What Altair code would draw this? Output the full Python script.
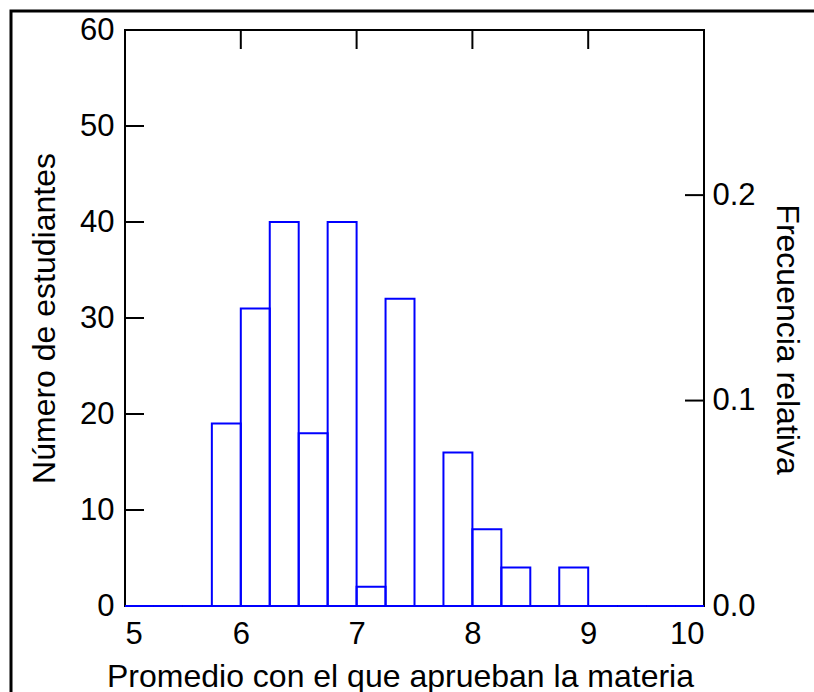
import altair as alt
import pandas as pd

# Histogram bins (width 0.25) and student counts
bin_start = [5.0, 5.25, 5.5, 5.75, 6.0, 6.25, 6.5, 6.75, 7.0, 7.25,
             7.5, 7.75, 8.0, 8.25, 8.5, 8.75, 9.0, 9.25, 9.5, 9.75]
bin_end = [5.25, 5.5, 5.75, 6.0, 6.25, 6.5, 6.75, 7.0, 7.25, 7.5,
           7.75, 8.0, 8.25, 8.5, 8.75, 9.0, 9.25, 9.5, 9.75, 10.0]
counts = [0, 0, 0, 19, 31, 40, 18, 40, 2, 32,
          0, 16, 8, 4, 0, 4, 0, 0, 0, 0]

x_ticks = [5, 6, 7, 8, 9, 10]
x_inner_ticks = [6, 7, 8, 9]
y_ticks = [0, 10, 20, 30, 40, 50, 60]
y_inner_ticks = [10, 20, 30, 40, 50]
rel_ticks = [0.0, 0.1, 0.2]
rel_inner_ticks = [0.1, 0.2]

total = sum(counts)
W, H = 579, 576
TICK = 19
FONT = "Liberation Sans"

bars_df = pd.DataFrame({"start": bin_start, "end": bin_end, "count": counts})

xscale = alt.Scale(domain=[5, 10], nice=False, zero=False)
yscale = alt.Scale(domain=[0, 60], nice=False)

x_axis = alt.Axis(
    values=x_ticks, ticks=False, domain=False, grid=False,
    labelFontSize=31, labelPadding=13, labelFont=FONT, labelColor="black",
    title="Promedio con el que aprueban la materia",
    titleFontSize=32, titleFont=FONT, titleFontWeight="normal", titleColor="black",
    titleX=275, titleY=80, titleBaseline="alphabetic", titleAlign="center")
y_axis = alt.Axis(
    values=y_ticks, ticks=False, domain=False, grid=False,
    labelFontSize=31, labelPadding=11, labelFont=FONT, labelColor="black",
    title="Número de estudiantes",
    titleFontSize=32, titleFont=FONT, titleFontWeight="normal", titleColor="black",
    titleAngle=270, titleX=-81, titleY=288, titleBaseline="middle", titleAlign="center")

bars = alt.Chart(bars_df).mark_rect(
    filled=False, stroke="#0000ff", strokeWidth=2
).encode(
    x=alt.X("start:Q", scale=xscale, axis=x_axis),
    x2="end:Q",
    y=alt.Y("count:Q", scale=yscale, axis=y_axis),
    y2=alt.datum(0),
)

top_ticks = alt.Chart(pd.DataFrame({"start": x_inner_ticks})).mark_rule(
    color="black", strokeWidth=2
).encode(
    x=alt.X("start:Q", scale=xscale, axis=x_axis),
    y=alt.value(0),
    y2=alt.value(TICK),
)

left_ticks = alt.Chart(pd.DataFrame({"count": y_inner_ticks})).mark_rule(
    color="black", strokeWidth=2
).encode(
    y=alt.Y("count:Q", scale=yscale, axis=y_axis),
    x=alt.value(0),
    x2=alt.value(TICK),
)

frame = alt.Chart(pd.DataFrame({"k": [0]})).mark_rect(
    filled=False, stroke="black", strokeWidth=3
).encode(
    x=alt.value(-114), x2=alt.value(1000),
    y=alt.value(-19), y2=alt.value(900),
)

right_axis = alt.Chart(pd.DataFrame({"rf": rel_inner_ticks})).mark_rule(
    color="black", strokeWidth=2
).encode(
    y=alt.Y("rf:Q", scale=alt.Scale(domain=[0, 60 / total], nice=False), axis=alt.Axis(
        orient="right", values=rel_ticks, format=".1f", ticks=False, domain=False, grid=False,
        labelFontSize=31, labelPadding=8, labelFont=FONT, labelColor="black",
        title="Frecuencia relativa",
        titleFontSize=32, titleFont=FONT, titleFontWeight="normal", titleColor="black",
        titleAngle=90, titleX=82, titleY=309, titleBaseline="middle", titleAlign="center")),
    x=alt.value(W - TICK),
    x2=alt.value(W),
)

inner = alt.layer(bars, top_ticks, left_ticks, frame)

chart = alt.layer(inner, right_axis).resolve_scale(y="independent").properties(
    width=W, height=H,
    autosize=alt.AutoSizeParams(type="none"),
    padding={"left": 125, "top": 30, "right": 110, "bottom": 86},
    background="white",
).configure_view(stroke="black", strokeWidth=2)

chart.save("out.html", embed_options={"renderer": "svg", "actions": False})
